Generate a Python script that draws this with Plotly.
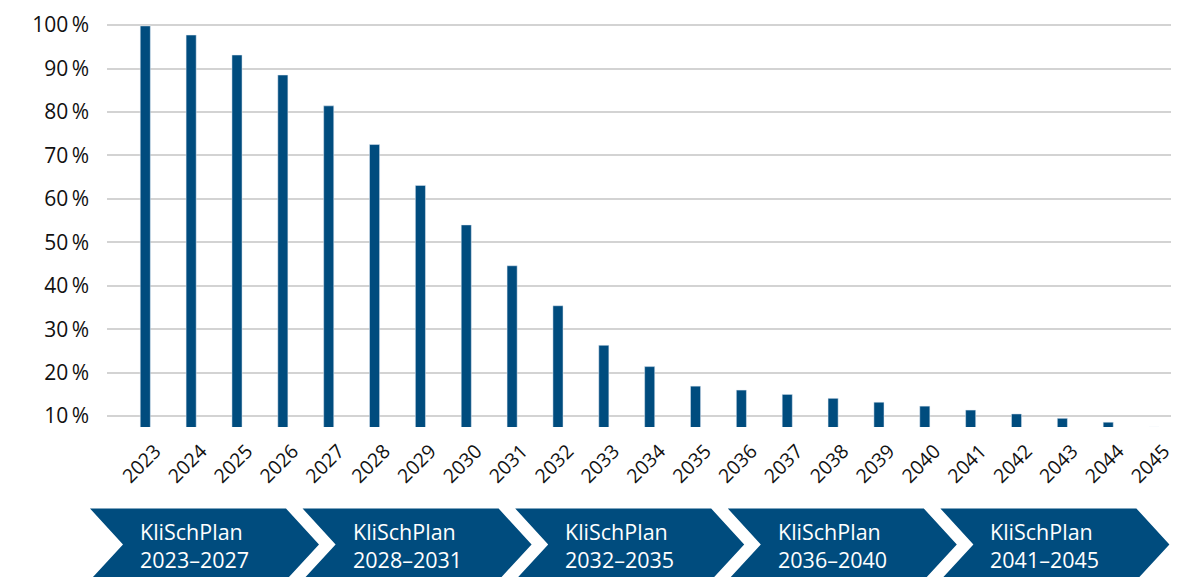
import plotly.graph_objects as go

years = [str(y) for y in range(2023, 2046)]
share = [99.8, 97.7, 93.1, 88.5, 81.4, 72.5, 63.1, 54.0, 44.6, 35.4, 26.3, 21.4,
         16.9, 16.0, 15.0, 14.1, 13.2, 12.3, 11.4, 10.5, 9.5, 8.6, 7.5]
y_ticks = [10, 20, 30, 40, 50, 60, 70, 80, 90, 100]
y_tick_labels = [f"{v}\u2009%" for v in y_ticks]
phases = ["KliSchPlan<br>2023–2027", "KliSchPlan<br>2028–2031", "KliSchPlan<br>2032–2035",
          "KliSchPlan<br>2036–2040", "KliSchPlan<br>2041–2045"]

BLUE = "#004c7e"
OFF = 8  # page body margin
W, H = 1179 - OFF, 577 - OFF
ML, MR, MT, MB = 107 - OFF, 10 - OFF, 20 - OFF, 150
PW, PH = W - ML - MR, H - MT - MB

def px_x(x):
    return (x - OFF - ML) / PW

def px_y(y):
    return (H - MB - (y - OFF)) / PH

fig = go.Figure()
fig.add_trace(go.Bar(x=years, y=share, marker_color=BLUE, width=0.22))

shapes = []
annotations = []
period = 212.6
for i, label in enumerate(phases):
    left = 90 + period * i
    top, bottom, mid = 509, 581, 545
    d = 33
    wtop = 196
    pts = [(left, top), (left + wtop, top), (left + wtop + d, mid), (left + wtop, bottom),
           (left, bottom), (left + d, mid)]
    path = "M " + " L ".join(f"{px_x(a):.5f},{px_y(b):.5f}" for a, b in pts) + " Z"
    shapes.append(dict(type="path", path=path, xref="paper", yref="paper",
                       fillcolor=BLUE, line=dict(width=0), layer="above"))
    annotations.append(dict(text=label, xref="paper", yref="paper",
                            x=px_x(left + 48), y=px_y(546), xanchor="left", yanchor="middle",
                            align="left", showarrow=False,
                            font=dict(family="Open Sans", size=21.5, color="white")))

fig.update_layout(
    width=W, height=H,
    margin=dict(l=ML, r=MR, t=MT, b=MB),
    paper_bgcolor="white", plot_bgcolor="white",
    showlegend=False,
    shapes=shapes,
    annotations=annotations,
    font=dict(family="Open Sans", color="#111111"),
)
fig.update_xaxes(type="category", range=[-0.835, 22.5], tickangle=-45,
                 tickfont=dict(size=19.5, color="#111111", weight=500), showgrid=False,
                 showline=False, ticks="", ticklabelstandoff=8, ticklabelshift=10)
fig.update_yaxes(range=[7.5, 100.7], tickvals=y_ticks, ticktext=y_tick_labels,
                 tickfont=dict(size=21, color="#111111", weight=500), showgrid=True,
                 gridcolor="#d3d3d3", gridwidth=2, zeroline=False, showline=False,
                 ticks="", ticklabelstandoff=17)

fig.write_html("out.html")
